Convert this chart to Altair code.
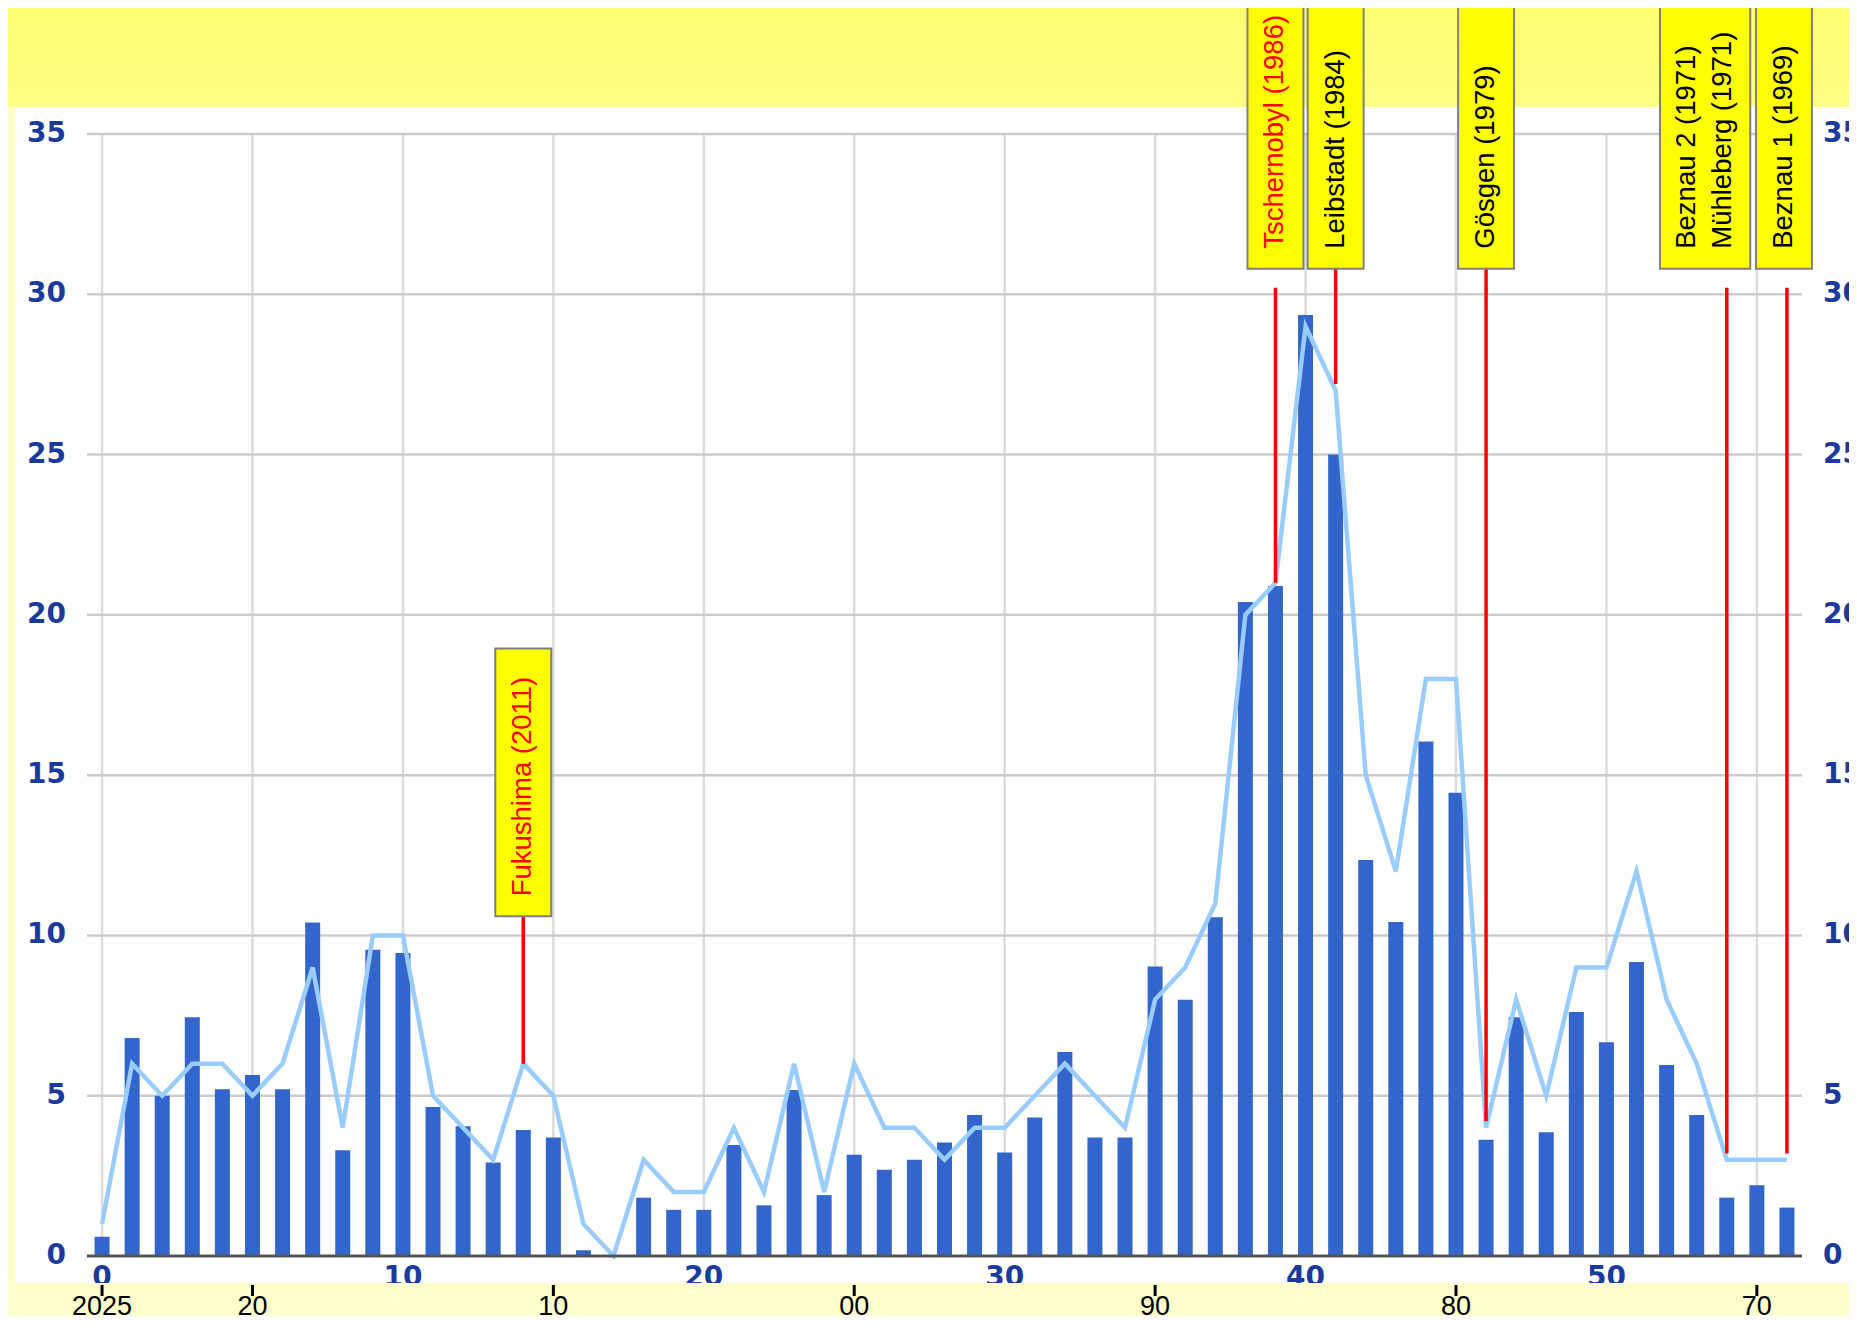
import altair as alt
import pandas as pd

# ---------------- data ----------------
idx = list(range(57))
bar_values = [0.6, 6.8, 5.0, 7.45, 5.2, 5.65, 5.2, 10.4, 3.3, 9.55,
              9.45, 4.65, 4.05, 2.92, 3.93, 3.7, 0.18, 0, 1.82, 1.44,
              1.44, 3.46, 1.58, 5.18, 1.9, 3.16, 2.69, 3.0, 3.54, 4.4,
              3.23, 4.32, 6.36, 3.7, 3.7, 9.03, 7.99, 10.57, 20.4, 20.9,
              29.35, 25.0, 12.35, 10.42, 16.05, 14.45, 3.63, 7.45, 3.86, 7.61,
              6.67, 9.17, 5.96, 4.4, 1.82, 2.21, 1.51]
line_values = [1, 6, 5, 6, 6, 5, 6, 9, 4, 10,
               10, 5, 4, 3, 6, 5, 1, 0, 3, 2,
               2, 4, 2, 6, 2, 6, 4, 4, 3, 4,
               4, 5, 6, 5, 4, 8, 9, 11, 20, 21,
               29, 27, 15, 12, 18, 18, 4, 8, 5, 9,
               9, 12, 8, 6, 3, 3, 3]

y_ticks = [0, 5, 10, 15, 20, 25, 30, 35]
x_grid = [0, 5, 10, 15, 20, 25, 30, 35, 40, 45, 50, 55]
x_labels = [0, 10, 20, 30, 40, 50]
year_ticks = [0, 5, 15, 25, 35, 45, 55]
year_labels = ["2025", "20", "10", "00", "90", "80", "70"]

# annotation events (one box per event group)
event_years = [2011, 1986, 1984, 1979, 1971, 1969]
event_texts = [["Fukushima (2011)"], ["Tschernobyl (1986)"], ["Leibstadt (1984)"],
               ["Gösgen (1979)"], ["Beznau 2 (1971)", "Mühleberg (1971)"], ["Beznau 1 (1969)"]]
event_colors = ["#FF0000", "#FF0000", "#000000", "#000000", "#000000", "#000000"]

# ---------------- styling / layout ----------------
X0, X1 = -0.5, 56.5
Y0, Y1 = 0, 35
BAR_BLUE = "#3366CC"
LINE_BLUE = "#99CCFF"
AXIS_BLUE = "#1A3A9C"
FONT = "Liberation Sans"
NUM_FONT = "DejaVu Sans"
NUM_SIZE = 28

xs = alt.Scale(domain=[X0, X1], nice=False, zero=False)
ys = alt.Scale(domain=[Y0, Y1], nice=False, zero=False)


def X(f):
    return alt.X(f, type="quantitative", scale=xs, axis=None)


def X2(f):
    return alt.X2(f)


def Y(f):
    return alt.Y(f, type="quantitative", scale=ys, axis=None)


def Y2(f):
    return alt.Y2(f)


# background panels (in data units so they follow the scales)
bg = pd.DataFrame({"x0": [-2.88], "x1": [62.0], "y0": [-0.84], "y1": [35.84]})
top_band = pd.DataFrame({"x0": [-6.0], "x1": [62.0], "y0": [35.84], "y1": [40.0]})
bottom_band = pd.DataFrame({"x0": [-6.0], "x1": [62.0], "y0": [-6.0], "y1": [-0.84]})

white_panel = alt.Chart(bg).mark_rect(color="white").encode(
    x=X("x0"), x2=X2("x1"), y=Y("y0"), y2=Y2("y1"))
grad = alt.LinearGradient(
    gradient="linear",
    stops=[alt.GradientStop(color="#FFFF6C", offset=0),
           alt.GradientStop(color="#FFFF84", offset=1)],
    x1=0, x2=0, y1=0, y2=1)
top_panel = alt.Chart(top_band).mark_rect(color=grad).encode(
    x=X("x0"), x2=X2("x1"), y=Y("y0"), y2=Y2("y1"))
bottom_panel = alt.Chart(bottom_band).mark_rect(color="#FFFFCC").encode(
    x=X("x0"), x2=X2("x1"), y=Y("y0"), y2=Y2("y1"))

# gridlines
vgrid_df = pd.DataFrame({"x": x_grid, "y0": Y0, "y1": Y1})
hgrid_df = pd.DataFrame({"y": y_ticks[1:], "x0": X0, "x1": X1})
vgrid = alt.Chart(vgrid_df).mark_rule(color="#DCDCDC", strokeWidth=2.5).encode(
    x=X("x"), y=Y("y0"), y2=Y2("y1"))
hgrid = alt.Chart(hgrid_df).mark_rule(color="#CCCCCC", strokeWidth=2.5).encode(
    y=Y("y"), x=X("x0"), x2=X2("x1"))
zero_df = pd.DataFrame({"y": [0], "x0": [X0], "x1": [X1]})
zero_line = alt.Chart(zero_df).mark_rule(color="#555555", strokeWidth=3).encode(
    y=Y("y"), x=X("x0"), x2=X2("x1"))

# series
df = pd.DataFrame({"i": idx, "bar": bar_values, "line": line_values, "base": 0})
bars = alt.Chart(df).mark_bar(size=15, color=BAR_BLUE).encode(
    x=X("i"), y=Y("bar"), y2=Y2("base"))
line = alt.Chart(df).mark_line(color=LINE_BLUE, strokeWidth=4.5).encode(
    x=X("i"), y=Y("line"))

# annotations
rule_rows, box_rows, text_rows = [], [], []
for yr, texts, col in zip(event_years, event_texts, event_colors):
    i = 2025 - yr
    lv = line_values[i]
    if yr == 2011:
        b0, b1, top = 10.6, 18.95, 10.6
    else:
        b0, b1 = 30.8, 39.05
        top = 30.8 if yr in (1984, 1979) else 30.2
    n = len(texts)
    half = 0.93 if n == 1 else 1.5
    cx = i if n == 1 else i - 0.72
    if yr == 1969:
        cx = i - 0.1
    rule_rows.append({"x": i, "y0": lv + 0.2 if yr not in (2011, 1986) else lv, "y1": top})
    box_rows.append({"x0": cx - half, "x1": cx + half, "y0": b0, "y1": b1})
    for j, t in enumerate(texts):
        off = (j - (n - 1) / 2) * 1.22
        text_rows.append({"x": cx + off, "y": b0 + 0.62, "t": t, "c": col})

rules = alt.Chart(pd.DataFrame(rule_rows)).mark_rule(color="#FF0000", strokeWidth=3.5).encode(
    x=X("x"), y=Y("y0"), y2=Y2("y1"))
boxes = alt.Chart(pd.DataFrame(box_rows)).mark_rect(
    color="#FFFF00", stroke="#808080", strokeWidth=2).encode(
    x=X("x0"), x2=X2("x1"), y=Y("y0"), y2=Y2("y1"))
box_text = alt.Chart(pd.DataFrame(text_rows)).mark_text(
    angle=270, align="left", baseline="middle", font=FONT, fontSize=27.5).encode(
    x=X("x"), y=Y("y"), text="t:N", color=alt.Color("c:N", scale=None))

# axis labels as text marks
ylab_df = pd.DataFrame({"y": y_ticks, "t": [str(v) for v in y_ticks], "xl": X0, "xr": X1})
left_labels = alt.Chart(ylab_df).mark_text(
    align="right", baseline="middle", dx=-21, font=NUM_FONT, fontWeight="bold",
    fontSize=NUM_SIZE, color=AXIS_BLUE).encode(x=X("xl"), y=Y("y"), text="t:N")
right_labels = alt.Chart(ylab_df).mark_text(
    align="left", baseline="middle", dx=21, font=NUM_FONT, fontWeight="bold",
    fontSize=NUM_SIZE, color=AXIS_BLUE).encode(x=X("xr"), y=Y("y"), text="t:N")

xlab_df = pd.DataFrame({"x": x_labels, "t": [str(v) for v in x_labels], "y": 0})
bottom_labels = alt.Chart(xlab_df).mark_text(
    align="center", baseline="alphabetic", dy=30, font=NUM_FONT, fontWeight="bold",
    fontSize=NUM_SIZE, color=AXIS_BLUE).encode(x=X("x"), y=Y("y"), text="t:N")

year_df = pd.DataFrame({"x": year_ticks, "t": year_labels, "y": 0})
year_tick_marks = alt.Chart(year_df).mark_rule(
    color="black", strokeWidth=3, yOffset=29, y2Offset=40).encode(
    x=X("x"), y=Y("y"), y2=Y2("y"))
year_text = alt.Chart(year_df).mark_text(
    align="center", baseline="alphabetic", dy=59, font=FONT, fontSize=27,
    color="black").encode(x=X("x"), y=Y("y"), text="t:N")

chart = alt.layer(
    top_panel, white_panel, vgrid, hgrid, bars, line, zero_line,
    rules, boxes, box_text, left_labels, right_labels, bottom_labels,
    bottom_panel, year_tick_marks, year_text
).properties(
    width=1725, height=1122,
    padding={"left": 74, "top": 126, "right": 42, "bottom": 60},
    autosize=alt.AutoSizeParams(type="none"),
    background="#FFFFCC",
).configure_view(stroke=None)

chart.save("out.html", embed_options={"renderer": "svg", "actions": False})
